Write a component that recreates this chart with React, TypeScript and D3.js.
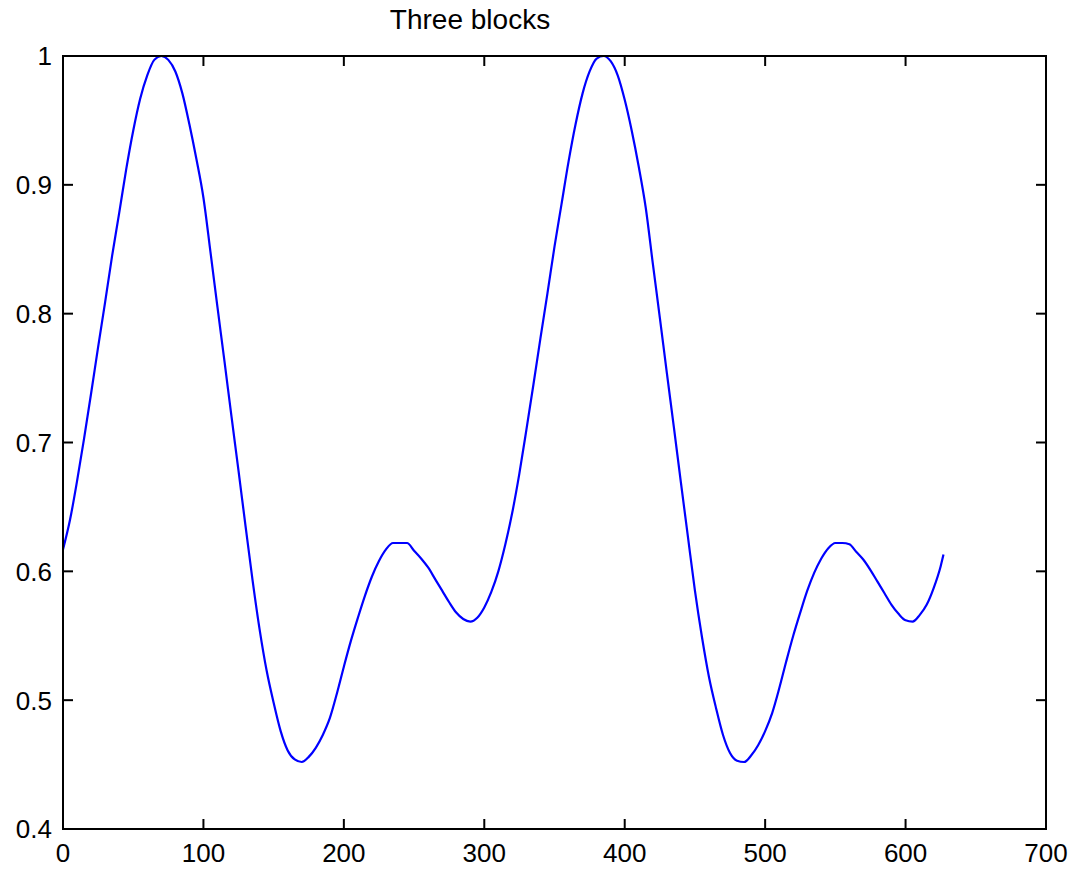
import { useLayoutEffect, useRef } from 'react'
import * as d3 from 'd3'

// sample positions and values
const sampleX = [
  0, 5, 10, 15, 20, 25, 30, 35, 40, 45, 50, 55, 60, 65, 70, 75, 80, 85, 90, 95,
  100, 105, 110, 115, 120, 125, 130, 135, 140, 145, 150, 155, 160, 165, 170, 175,
  180, 185, 190, 195, 200, 205, 210, 215, 220, 225, 230, 235, 240, 245, 250, 255,
  260, 265, 270, 275, 280, 285, 290, 295, 300, 305, 310, 315, 320, 325, 330, 335,
  340, 345, 350, 355, 360, 365, 370, 375, 380, 385, 390, 395, 400, 405, 410, 415,
  420, 425, 430, 435, 440, 445, 450, 455, 460, 465, 470, 475, 480, 485, 490, 495,
  500, 505, 510, 515, 520, 525, 530, 535, 540, 545, 550, 555, 560, 565, 570, 575,
  580, 585, 590, 595, 600, 605, 610, 615, 620, 625, 627
]

const blockValues = [
  0.617, 0.64, 0.67, 0.703, 0.738, 0.774, 0.809, 0.845, 0.878, 0.912, 0.942, 0.967,
  0.985, 0.997, 1.0, 0.997, 0.988, 0.971, 0.947, 0.92, 0.89, 0.848, 0.805, 0.763,
  0.72, 0.678, 0.635, 0.593, 0.555, 0.523, 0.498, 0.476, 0.461, 0.454, 0.452, 0.456,
  0.463, 0.473, 0.486, 0.505, 0.526, 0.546, 0.564, 0.581, 0.596, 0.608, 0.617, 0.622,
  0.622, 0.622, 0.616, 0.61, 0.603, 0.594, 0.585, 0.576, 0.568, 0.563, 0.561, 0.564,
  0.572, 0.584, 0.6, 0.621, 0.646, 0.676, 0.71, 0.745, 0.781, 0.816, 0.852, 0.885,
  0.918, 0.947, 0.971, 0.988, 0.998, 1.0, 0.996, 0.985, 0.966, 0.942, 0.914, 0.882,
  0.839, 0.797, 0.754, 0.712, 0.669, 0.627, 0.585, 0.549, 0.518, 0.494, 0.473, 0.459,
  0.453, 0.452, 0.457, 0.465, 0.476, 0.49, 0.509, 0.53, 0.55, 0.568, 0.585, 0.599,
  0.61, 0.618, 0.622, 0.622, 0.621, 0.615, 0.609, 0.601, 0.592, 0.583, 0.574, 0.567,
  0.562, 0.561, 0.566, 0.574, 0.587, 0.604, 0.613
]

const xTicks = [0, 100, 200, 300, 400, 500, 600, 700]
const yTicks = [0.4, 0.5, 0.6, 0.7, 0.8, 0.9, 1]
const chartTitle = 'Three blocks'

const useD3 = (renderChartFn: (svg: any) => void, dependencies: any[]) => {
  const ref = useRef<SVGSVGElement>(null)

  useLayoutEffect(() => {
    const svg = d3.select(ref.current)
    svg.selectAll('*').remove()
    renderChartFn(svg)
    return () => {}
  }, dependencies)
  return ref
}

const App = () => {
  const ref = useD3((svg) => {
    const left = 63
    const right = 1046
    const top = 56
    const bottom = 829
    const tickLen = 10
    const font = '"Liberation Sans", Arial, Helvetica, sans-serif'

    const x = d3.scaleLinear().domain([0, 700]).range([left, right])
    const y = d3.scaleLinear().domain([0.4, 1]).range([bottom, top])

    const data = sampleX.map((d, i) => [d, blockValues[i]] as [number, number])

    svg
      .append('path')
      .datum(data)
      .attr('fill', 'none')
      .attr('stroke', '#0000ff')
      .attr('stroke-width', 2.2)
      .attr('stroke-linejoin', 'round')
      .attr(
        'd',
        d3
          .line()
          .curve(d3.curveMonotoneX)
          .x((d) => x(d[0]))
          .y((d) => y(d[1]))
      )

    const axes = svg.append('g').attr('stroke', '#000').attr('stroke-width', 2)

    axes
      .append('rect')
      .attr('x', left)
      .attr('y', top)
      .attr('width', right - left)
      .attr('height', bottom - top)
      .attr('fill', 'none')

    // ticks point inwards on all four sides
    xTicks.forEach((t) => {
      axes.append('line').attr('x1', x(t)).attr('x2', x(t)).attr('y1', bottom).attr('y2', bottom - tickLen)
      axes.append('line').attr('x1', x(t)).attr('x2', x(t)).attr('y1', top).attr('y2', top + tickLen)
    })
    yTicks.forEach((t) => {
      axes.append('line').attr('x1', left).attr('x2', left + tickLen).attr('y1', y(t)).attr('y2', y(t))
      axes.append('line').attr('x1', right).attr('x2', right - tickLen).attr('y1', y(t)).attr('y2', y(t))
    })

    svg
      .append('g')
      .attr('font-family', font)
      .attr('font-size', 26)
      .attr('text-anchor', 'middle')
      .selectAll('text')
      .data(xTicks)
      .enter()
      .append('text')
      .attr('x', (d) => x(d))
      .attr('y', bottom + 33)
      .text((d) => d)

    svg
      .append('g')
      .attr('font-family', font)
      .attr('font-size', 26)
      .attr('text-anchor', 'end')
      .selectAll('text')
      .data(yTicks)
      .enter()
      .append('text')
      .attr('x', left - 11)
      .attr('y', (d) => y(d))
      .attr('dy', '0.36em')
      .text((d) => d)

    svg
      .append('text')
      .attr('x', 470)
      .attr('y', 29)
      .attr('text-anchor', 'middle')
      .attr('font-family', font)
      .attr('font-size', 28)
      .text(chartTitle)
  }, [])

  return (
    <svg
      ref={ref}
      width={1073}
      height={869}
      style={{ position: 'absolute', left: 0, top: 0, background: '#fff' }}
    />
  )
}

export default App
